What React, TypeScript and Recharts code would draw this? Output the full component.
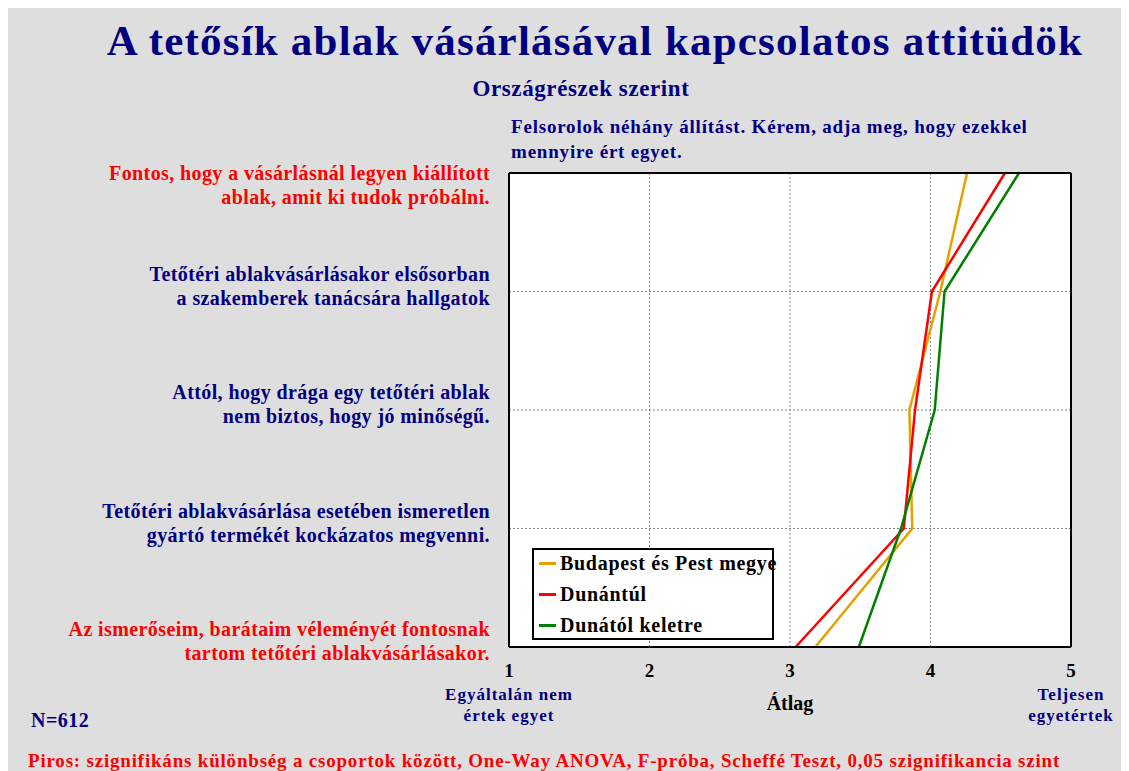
import React from "react";
import {
  LineChart,
  Line,
  XAxis,
  YAxis,
  CartesianGrid,
  ReferenceLine,
  Legend,
} from "recharts";

const NAVY = "#000080";
const RED = "#FF0000";
const FONT = "'Liberation Serif', 'Times New Roman', serif";

// statements (y categories), two lines each
const statements = [
  ["Fontos, hogy a vásárlásnál legyen kiállított", "ablak, amit ki tudok próbálni."],
  ["Tetőtéri ablakvásárlásakor elsősorban", "a szakemberek tanácsára hallgatok"],
  ["Attól, hogy drága egy tetőtéri ablak", "nem biztos, hogy jó minőségű."],
  ["Tetőtéri ablakvásárlása esetében ismeretlen", "gyártó termékét kockázatos megvenni."],
  ["Az ismerőseim, barátaim véleményét fontosnak", "tartom tetőtéri ablakvásárlásakor."],
];
// red = significant difference between groups
const significant = [true, false, false, false, true];

const budapest = [4.26, 4.07, 3.85, 3.87, 3.18];
const dunantul = [4.53, 4.01, 3.89, 3.81, 3.04];
const keletre = [4.63, 4.1, 4.03, 3.79, 3.49];

const scaleTicks = [1, 2, 3, 4, 5];
const scaleEnds: Record<number, string[]> = {
  1: ["Egyáltalán nem", "értek egyet"],
  5: ["Teljesen", "egyetértek"],
};

const categories = statements.map((s) => s.join(" "));
const data = categories.map((label, i) => ({
  label,
  budapest: budapest[i],
  dunantul: dunantul[i],
  keletre: keletre[i],
}));

function StatementTick(props: any) {
  const { x, y, payload } = props;
  const i = categories.indexOf(payload.value);
  const lines = statements[i];
  const first = Math.max(y - 11, 172);
  return (
    <g>
      {lines.map((ln, k) => (
        <text
          key={k}
          x={x - 19}
          y={first + k * 24}
          textAnchor="end"
          fill={significant[i] ? RED : NAVY}
          fontFamily={FONT}
          fontWeight="bold"
          fontSize={20}
          letterSpacing={0.4}
        >
          {ln}
        </text>
      ))}
    </g>
  );
}

function ScaleTick(props: any) {
  const { x, y, payload } = props;
  const extra = scaleEnds[payload.value];
  return (
    <g>
      <text x={x} y={y + 30} textAnchor="middle" fill="#000" fontFamily={FONT} fontWeight="bold" fontSize={19}>
        {payload.value}
      </text>
      {extra &&
        extra.map((ln, k) => (
          <text
            key={k}
            x={x}
            y={y + 53 + k * 21}
            textAnchor="middle"
            fill={NAVY}
            fontFamily={FONT}
            fontWeight="bold"
            fontSize={17}
            letterSpacing={1}
          >
            {ln}
          </text>
        ))}
    </g>
  );
}

function LegendBox({ payload }: any) {
  return (
    <div
      style={{
        width: 242,
        height: 92,
        background: "#fff",
        border: "2px solid #000",
        boxSizing: "border-box",
        position: "relative",
      }}
    >
      {(payload || []).map((p: any, i: number) => (
        <div
          key={p.value}
          style={{
            position: "absolute",
            left: 5,
            top: 0 + i * 31,
            height: 26,
            display: "flex",
            alignItems: "center",
            whiteSpace: "nowrap",
          }}
        >
          <span style={{ display: "inline-block", width: 17, height: 3, background: p.color, marginRight: 4 }} />
          <span style={{ fontFamily: FONT, fontWeight: "bold", fontSize: 20, color: "#000", letterSpacing: 0.7 }}>
            {p.value}
          </span>
        </div>
      ))}
    </div>
  );
}

export default function App() {
  const W = 1121;
  const H = 763;
  return (
    <div style={{ position: "relative", width: W, height: H, background: "#DEDEDE", overflow: "hidden" }}>
      <LineChart
        width={W}
        height={H}
        data={data}
        layout="vertical"
        margin={{ top: 165, right: 58, bottom: 64, left: 21 }}
      >
        <CartesianGrid fill="#FFFFFF" stroke="#808080" strokeDasharray="2 2" />
        <XAxis
          type="number"
          domain={[1, 5]}
          ticks={scaleTicks}
          axisLine={false}
          tickLine={false}
          tickSize={0}
          tickMargin={0}
          height={60}
          tick={<ScaleTick />}
          interval={0}
        />
        <YAxis
          type="category"
          dataKey="label"
          scale="point"
          width={480}
          axisLine={false}
          tickLine={false}
          tickSize={0}
          tickMargin={0}
          tick={<StatementTick />}
          interval={0}
        />
        <Legend
          layout="vertical"
          align="center"
          verticalAlign="middle"
          content={<LegendBox />}
          wrapperStyle={{ left: 524, top: 540, width: 242, height: 92 }}
        />
        <Line dataKey="budapest" name="Budapest és Pest megye" stroke="#E6A100" strokeWidth={2.5} dot={false} isAnimationActive={false} />
        <Line dataKey="dunantul" name="Dunántúl" stroke="#FF0000" strokeWidth={2.5} dot={false} isAnimationActive={false} />
        <Line dataKey="keletre" name="Dunától keletre" stroke="#008000" strokeWidth={2.5} dot={false} isAnimationActive={false} />
        <ReferenceLine x={1} stroke="#000" strokeWidth={2} />
        <ReferenceLine x={5} stroke="#000" strokeWidth={2} />
        <ReferenceLine y={categories[0]} stroke="#000" strokeWidth={2} />
        <ReferenceLine y={categories[categories.length - 1]} stroke="#000" strokeWidth={2} />
      </LineChart>
      <svg width={W} height={H} style={{ position: "absolute", left: 0, top: 0, pointerEvents: "none" }}>
        <text x={587} y={47} textAnchor="middle" fill={NAVY} fontFamily={FONT} fontWeight="bold" fontSize={43} letterSpacing={1.2}>
          A tetősík ablak vásárlásával kapcsolatos attitüdök
        </text>
        <text x={573} y={88} textAnchor="middle" fill={NAVY} fontFamily={FONT} fontWeight="bold" fontSize={23} letterSpacing={0.6}>
          Országrészek szerint
        </text>
        <text x={503} y={125} fill={NAVY} fontFamily={FONT} fontWeight="bold" fontSize={19} letterSpacing={0.8}>
          Felsorolok néhány állítást. Kérem, adja meg, hogy ezekkel
        </text>
        <text x={503} y={150} fill={NAVY} fontFamily={FONT} fontWeight="bold" fontSize={19} letterSpacing={0.8}>
          mennyire ért egyet.
        </text>
        <text x={782} y={702} textAnchor="middle" fill="#000" fontFamily={FONT} fontWeight="bold" fontSize={20}>
          Átlag
        </text>
        <text x={23} y={719} fill={NAVY} fontFamily={FONT} fontWeight="bold" fontSize={20} letterSpacing={0.5}>
          N=612
        </text>
        <text x={20} y={759} fill={RED} fontFamily={FONT} fontWeight="bold" fontSize={19} letterSpacing={0.8}>
          Piros: szignifikáns különbség a csoportok között, One-Way ANOVA, F-próba, Scheffé Teszt, 0,05 szignifikancia szint
        </text>
      </svg>
    </div>
  );
}
